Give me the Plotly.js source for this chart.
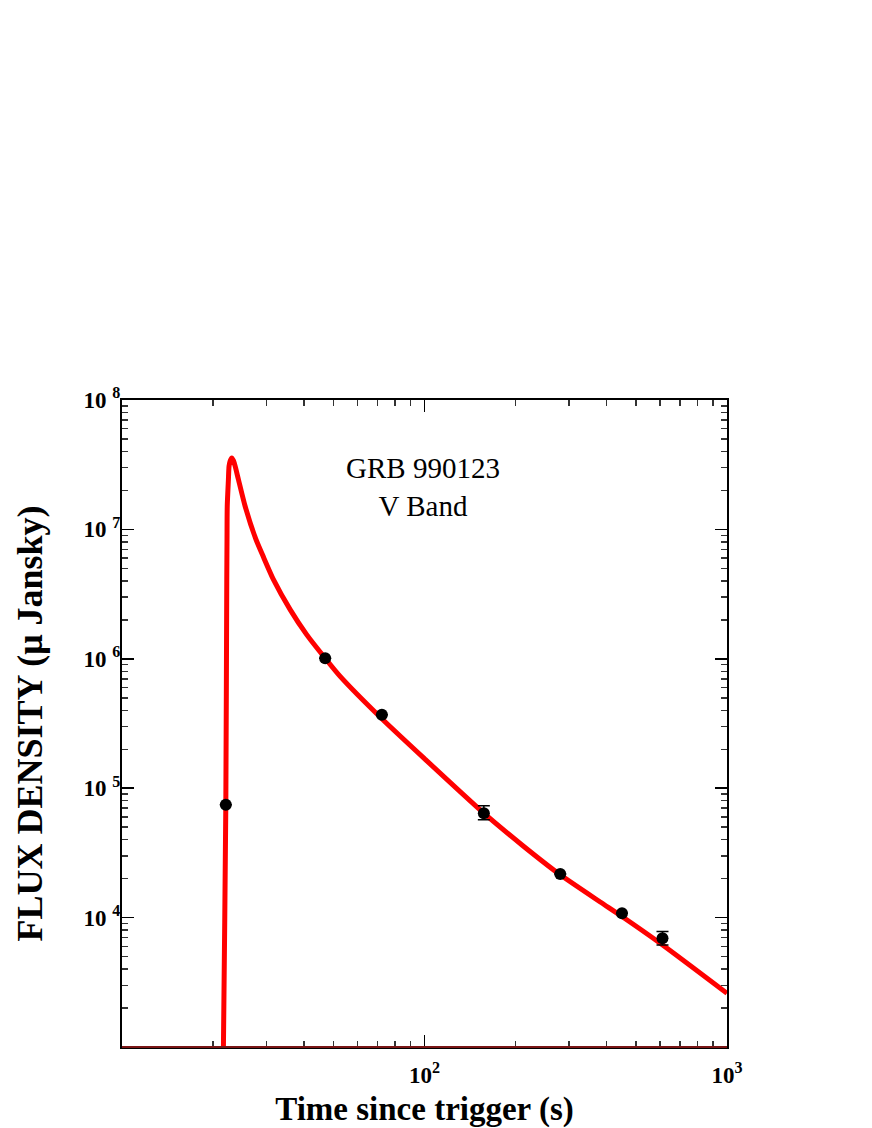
<!DOCTYPE html>
<html>
<head>
<meta charset="utf-8">
<script src="https://cdn.plot.ly/plotly-3.0.1.min.js"></script>
<style>html,body{margin:0;padding:0;background:#fff;}#chart{width:872px;height:1128px;}</style>
</head>
<body>
<div id="chart"></div>
<script>
// Observed data points (time since trigger in s, flux density in micro-Jansky)
const obsTime = [22.04, 46.95, 72.3, 157.1, 281, 449.6, 612];
const obsFlux = [74500, 1010000, 370000, 64100, 21700, 10800, 6930];
const obsErrPlus = [0, 0, 0, 9000, 0, 0, 870];
const obsErrMinus = [0, 0, 0, 7100, 0, 0, 780];

// Model curve
const modelTime = [21.5, 21.64, 22.04, 22.20, 22.24, 22.28, 22.48, 22.59, 22.8, 23.07, 23.35, 23.66, 24.26, 25.53, 27.7, 29.28, 31.68, 35.97, 40.84, 46.95, 52.63, 72.29, 100, 157.1, 210, 281, 381, 449.6, 611, 1000];
const modelFlux = [300, 1000, 74500, 4090000, 8300000, 15100000, 24300000, 30800000, 34000000, 35700000, 34000000, 30800000, 24300000, 15100000, 8400000, 6190000, 4090000, 2400000, 1530000, 1010000, 731000, 344000, 169000, 64100, 36400, 21400, 13200, 10200, 6170, 2600];

const yTickVals = [1e4, 1e5, 1e6, 1e7, 1e8];
const yTickText = ["10 <sup>4</sup>", "10 <sup>5</sup>", "10 <sup>6</sup>", "10 <sup>7</sup>", "10 <sup>8</sup>"];
const xTickVals = [100, 1000];
const xTickText = ["10<sup>2</sup>", "10<sup>3</sup>"];

function minorVals(lo, hi) {
  const v = [];
  for (let e = lo; e < hi; e++) for (let m = 2; m <= 9; m++) v.push(m * Math.pow(10, e));
  return v;
}

const FONT = "Liberation Serif, Times New Roman, serif";

const traces = [
  {
    x: modelTime, y: modelFlux, type: 'scatter', mode: 'lines',
    line: {color: '#ff0000', width: 5, shape: 'spline', smoothing: 0.6}, hoverinfo: 'skip', showlegend: false
  },
  {
    x: obsTime, y: obsFlux, type: 'scatter', mode: 'markers',
    marker: {color: '#000', size: 12},
    error_y: {type: 'data', symmetric: false, array: obsErrPlus, arrayminus: obsErrMinus, color: '#000', thickness: 1.5, width: 6},
    showlegend: false
  }
];

const layout = {
  width: 872, height: 1128,
  margin: {l: 122, r: 145, t: 400, b: 81, pad: 0},
  paper_bgcolor: '#fff', plot_bgcolor: '#fff',
  showlegend: false,
  font: {family: FONT, color: '#000'},
  xaxis: {
    type: 'log', range: [1, 3],
    tickmode: 'array', tickvals: xTickVals, ticktext: xTickText,
    ticks: 'inside', ticklen: 12, tickwidth: 1.5, tickcolor: '#000',
    minor: {tickmode: 'array', tickvals: minorVals(1, 3), ticks: 'inside', ticklen: 6, tickwidth: 1.5, tickcolor: '#333'},
    showline: true, linecolor: '#000', linewidth: 2, mirror: 'allticks',
    showgrid: false, zeroline: false,
    tickfont: {family: FONT, size: 23, color: '#000', weight: 'bold'},
    ticklabelstandoff: 6,
    title: {text: '<b>Time since trigger (s)</b>', font: {family: FONT, size: 33, color: '#000'}, standoff: 10}
  },
  yaxis: {
    type: 'log', range: [3, 8],
    tickmode: 'array', tickvals: yTickVals, ticktext: yTickText,
    ticks: 'inside', ticklen: 12, tickwidth: 1.5, tickcolor: '#000',
    minor: {tickmode: 'array', tickvals: minorVals(3, 8), ticks: 'inside', ticklen: 6, tickwidth: 1.5, tickcolor: '#333'},
    showline: true, linecolor: '#000', linewidth: 2, mirror: 'allticks',
    showgrid: false, zeroline: false,
    tickfont: {family: FONT, size: 23, color: '#000', weight: 'bold'},
    ticklabelstandoff: -5,
    title: {text: '<b>FLUX DENSITY (μ Jansky)</b>', font: {family: FONT, size: 36, color: '#000'}, standoff: 30}
  },
  shapes: [
    {type: 'line', xref: 'paper', yref: 'paper', x0: 0, x1: 1, y0: 0, y1: 0, line: {color: '#7a1515', width: 2}}
  ],
  annotations: [
    {text: 'GRB 990123<br>V Band', xref: 'paper', yref: 'paper', x: 0.498, y: 0.865, xanchor: 'center', yanchor: 'middle',
     showarrow: false, align: 'center', font: {family: FONT, size: 29, color: '#000'}}
  ]
};

Plotly.newPlot('chart', traces, layout, {displayModeBar: false, staticPlot: true});
</script>
</body>
</html>
